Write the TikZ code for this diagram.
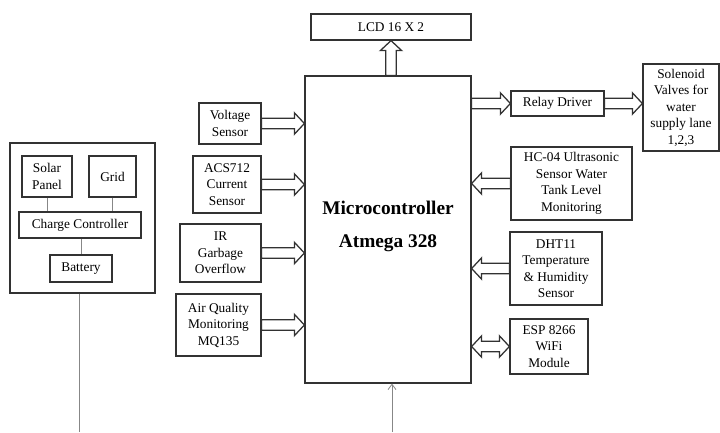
\documentclass[tikz,border=0pt]{standalone}
\usepackage{fontspec}
\setmainfont{Liberation Serif}
\usetikzlibrary{calc,arrows.meta}

\definecolor{boxgray}{RGB}{50,50,50}
\definecolor{wiregray}{RGB}{135,135,135}

\begin{document}
\begin{tikzpicture}[
        x=0.75pt, y=-0.75pt,
        line join=miter,
        blk/.style={draw=boxgray, line width=0.9pt, align=center, inner sep=0pt,
            font=\fontsize{10}{12.4}\selectfont},
        wire/.style={draw=wiregray, line width=0.6pt},
        fat/.style={draw=boxgray, line width=0.95pt, to path={
            ($(\tikztostart)!4pt!90:(\tikztotarget)$)
            -- ($(\tikztotarget)!7.5pt!(\tikztostart)!4pt!-90:(\tikztostart)$)
            -- ($(\tikztotarget)!7.5pt!(\tikztostart)!8pt!-90:(\tikztostart)$)
            -- (\tikztotarget)
            -- ($(\tikztotarget)!7.5pt!(\tikztostart)!8pt!90:(\tikztostart)$)
            -- ($(\tikztotarget)!7.5pt!(\tikztostart)!4pt!90:(\tikztostart)$)
            -- ($(\tikztostart)!4pt!-90:(\tikztotarget)$)
            -- cycle}},
        fatboth/.style={draw=boxgray, line width=0.95pt, to path={
            (\tikztostart)
            -- ($(\tikztostart)!7.5pt!(\tikztotarget)!8pt!90:(\tikztotarget)$)
            -- ($(\tikztostart)!7.5pt!(\tikztotarget)!4pt!90:(\tikztotarget)$)
            -- ($(\tikztotarget)!7.5pt!(\tikztostart)!4pt!-90:(\tikztostart)$)
            -- ($(\tikztotarget)!7.5pt!(\tikztostart)!8pt!-90:(\tikztostart)$)
            -- (\tikztotarget)
            -- ($(\tikztotarget)!7.5pt!(\tikztostart)!8pt!90:(\tikztostart)$)
            -- ($(\tikztotarget)!7.5pt!(\tikztostart)!4pt!90:(\tikztostart)$)
            -- ($(\tikztostart)!7.5pt!(\tikztotarget)!4pt!-90:(\tikztotarget)$)
            -- ($(\tikztostart)!7.5pt!(\tikztotarget)!8pt!-90:(\tikztotarget)$)
            -- cycle}}
    ]
        \useasboundingbox (0,0) rectangle (720,432);

        \begin{scope}
            \node[blk, minimum width=108.75pt, minimum height=112.5pt] (pwr) at (82.5,218) {};
            \node[blk, minimum width=37.5pt, minimum height=30.75pt] (solar) at (47,176.5) {Solar\\Panel};
            \node[blk, minimum width=35.25pt, minimum height=30.75pt] (grid) at (112.5,176.5) {Grid};
            \node[blk, minimum width=91.5pt, minimum height=19.5pt] (cc) at (80,225) {Charge Controller};
            \node[blk, minimum width=46.5pt, minimum height=20.25pt] (batt) at (81,268.5) {Battery};
            \coordinate (pwrend) at (79,432);

            \draw[wire] (solar.south) -- (solar.south |- cc.north);
            \draw[wire] (grid.south) -- (grid.south |- cc.north);
            \draw[wire] (batt.north |- cc.south) -- (batt.north);
            \draw[wire] (pwrend |- pwr.south) -- (pwrend);
        \end{scope}

        \node[blk, minimum width=124.5pt, minimum height=230.25pt] (mcu) at (388,229.5) {};
        \node[align=center, font=\fontsize{14.5}{24.75}\selectfont\bfseries] (mcutxt) at (388,226)
            {Microcontroller\\Atmega 328};
        \node[blk, minimum width=120pt, minimum height=19.5pt] (lcd) at (391,27) {LCD 16 X 2};
        \coordinate (mcuin) at (392,432);

        \node[blk, minimum width=46.5pt, minimum height=30.75pt] (volt) at (230,123.5) {Voltage\\Sensor};
        \node[blk, minimum width=51pt, minimum height=42.75pt] (acs) at (227,184.5) {ACS712\\Current\\Sensor};
        \node[blk, minimum width=60.75pt, minimum height=43.5pt] (ir) at (220.5,253) {IR\\Garbage\\Overflow};
        \node[blk, minimum width=63.75pt, minimum height=46.5pt] (air) at (218.5,325) {Air Quality\\Monitoring\\MQ135};

        \node[blk, minimum width=69.75pt, minimum height=18.75pt] (relay) at (557.5,103.5) {Relay Driver};
        \node[blk, minimum width=57pt, minimum height=65.25pt] (sol) at (681,107.5)
            {Solenoid\\Valves for\\water\\supply lane\\1,2,3};
        \node[blk, minimum width=90.75pt, minimum height=54.75pt] (hc) at (571.5,183.5)
            {HC-04 Ultrasonic\\Sensor Water\\Tank Level\\Monitoring};
        \node[blk, minimum width=69pt, minimum height=54.75pt] (dht) at (556,268.5)
            {DHT11\\Temperature\\\& Humidity\\Sensor};
        \node[blk, minimum width=58.5pt, minimum height=41.25pt] (esp) at (549,346.5) {ESP 8266\\WiFi\\Module};

        \foreach \s in {volt,acs,ir,air}{
            \draw[fat] (\s.east) to (\s.east -| mcu.west);
        }
        \draw[fat] (lcd.south |- mcu.north) to (lcd.south);
        \draw[fat] (mcu.east |- relay.west) to (relay.west);
        \draw[fat] (relay.east) to (relay.east -| sol.west);
        \draw[fat] (hc.west) to (hc.west -| mcu.east);
        \draw[fat] (dht.west) to (dht.west -| mcu.east);
        \draw[fatboth] (mcu.east |- esp.west) to (esp.west);

        \draw[wire, -{Straight Barb[length=4pt, width=6pt]}] (mcuin) -- (mcuin |- mcu.south);
    \end{tikzpicture}
\end{document}
